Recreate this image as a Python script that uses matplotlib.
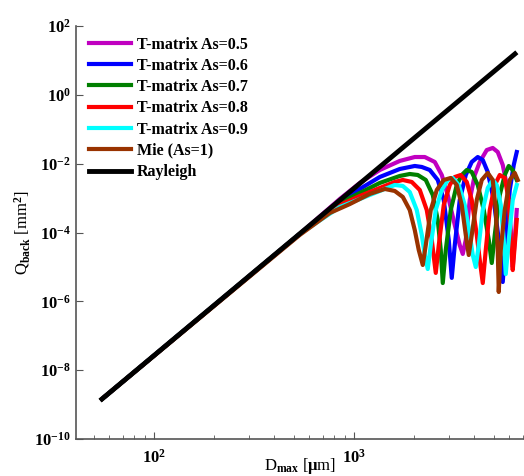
import numpy as np
import matplotlib
matplotlib.use("Agg")
import matplotlib.pyplot as plt

plt.rcParams['font.family'] = 'Liberation Serif'
plt.rcParams['font.weight'] = 'bold'
plt.rcParams['mathtext.fontset'] = 'custom'
plt.rcParams['mathtext.rm'] = 'Liberation Serif:bold'
plt.rcParams['mathtext.it'] = 'Liberation Serif:bold'
plt.rcParams['mathtext.bf'] = 'Liberation Serif:bold'

# D_max [um] and Q_back [mm^2]
d_ray = [55, 6400]
q_ray = [1.45e-9, 15.5]

d_05 = [55, 537, 851, 1072, 1349, 1698, 2018, 2265, 2541, 2754, 2951, 3199, 3388, 3508, 3631, 3802,
        4027, 4266, 4624, 4955, 5248, 5559, 5888, 6095, 6237, 6383, 6531]
q_05 = [1.45e-9, 9.1e-5, 9.4e-4, 2.75e-3, 6.55e-3, 0.0120, 0.0156, 0.0156, 0.0112, 4.69e-3, 1.23e-3,
        1.65e-4, 4.3e-5, 2.38e-5, 6.1e-5, 8.8e-4, 4.69e-3, 0.0112, 0.0249, 0.0286, 0.0218, 9.16e-3,
        1.72e-3, 1.18e-4, 9.95e-6, 6.1e-5, 4.5e-4]

d_06 = [55, 537, 851, 1072, 1349, 1698, 2018, 2188, 2399, 2630, 2818, 2985, 3090, 3199, 3388, 3631,
        3890, 4169, 4416, 4677, 5012, 5309, 5559, 5754, 6026, 6310, 6531]
q_06 = [1.45e-9, 9.1e-5, 8.2e-4, 1.84e-3, 4.10e-3, 7.0e-3, 8.57e-3, 8.02e-3, 6.55e-3, 3.36e-3, 8.8e-4,
        6.1e-5, 4.8e-6, 4.3e-5, 8.8e-4, 4.69e-3, 0.0112, 0.0156, 0.0128, 5.73e-3, 8.8e-4, 6.1e-5,
        3.65e-6, 6.1e-5, 1.72e-3, 9.16e-3, 0.0218]

d_07 = [55, 537, 851, 1072, 1349, 1698, 1905, 2089, 2291, 2483, 2630, 2723, 2786, 2884, 3055, 3273,
        3467, 3673, 3890, 4169, 4467, 4732, 4898, 5070, 5370, 5689, 5957, 6237, 6531]
q_07 = [1.45e-9, 9.1e-5, 7.2e-4, 1.41e-3, 2.75e-3, 4.39e-3, 5.01e-3, 4.69e-3, 3.36e-3, 1.23e-3, 2.31e-4,
        3.1e-5, 3.4e-6, 3.1e-5, 4.5e-4, 2.40e-3, 4.69e-3, 6.55e-3, 5.73e-3, 2.40e-3, 4.5e-4, 6.1e-5,
        1.30e-5, 8.5e-5, 1.23e-3, 4.69e-3, 8.57e-3, 6.55e-3, 3.36e-3]

d_08 = [55, 537, 851, 1072, 1349, 1603, 1758, 1950, 2138, 2317, 2455, 2570, 2661, 2818, 3020, 3199,
        3428, 3673, 3890, 4121, 4266, 4416, 4571, 4786, 5070, 5370, 5689, 5957, 6095, 6237, 6383, 6531]
q_08 = [1.45e-9, 9.1e-5, 6.3e-4, 1.15e-3, 1.97e-3, 2.94e-3, 3.36e-3, 2.94e-3, 1.72e-3, 4.5e-4, 6.1e-5,
        6.7e-6, 4.3e-5, 6.3e-4, 2.40e-3, 4.10e-3, 4.69e-3, 2.94e-3, 8.8e-4, 8.5e-5, 1.59e-5, 3.4e-6,
        3.1e-5, 4.5e-4, 2.40e-3, 4.69e-3, 3.84e-3, 8.8e-4, 6.1e-5, 8.1e-6, 4.3e-5, 2.31e-4]

d_09 = [55, 537, 851, 1072, 1349, 1603, 1758, 1905, 2065, 2188, 2265, 2344, 2427, 2570, 2754, 2951,
        3126, 3350, 3589, 3802, 3936, 4074, 4217, 4416, 4677, 4955, 5188, 5433, 5623, 5754, 5957,
        6237, 6531]
q_09 = [1.45e-9, 9.1e-5, 5.5e-4, 9.4e-4, 1.61e-3, 2.40e-3, 2.25e-3, 1.50e-3, 4.5e-4, 8.5e-5, 2.22e-5,
        8.7e-6, 4.3e-5, 4.5e-4, 1.72e-3, 3.36e-3, 3.84e-3, 2.40e-3, 6.3e-4, 8.5e-5, 2.22e-5, 9.95e-6,
        4.3e-5, 4.5e-4, 1.97e-3, 3.36e-3, 2.40e-3, 6.3e-4, 6.1e-5, 6.2e-6, 6.1e-5, 8.8e-4, 2.40e-3]

d_mie = [55, 537, 759, 955, 1202, 1429, 1603, 1758, 1905, 2018, 2113, 2213, 2291, 2427, 2600, 2818,
         3055, 3273, 3467, 3631, 3758, 3890, 4121, 4365, 4677, 4955, 5129, 5248, 5309, 5433, 5689,
         6026, 6383, 6607]
q_mie = [1.45e-9, 8.5e-5, 3.7e-4, 6.7e-4, 1.32e-3, 1.84e-3, 1.61e-3, 1.08e-3, 4.5e-4, 1.18e-4, 3.1e-5,
         1.14e-5, 4.3e-5, 4.5e-4, 1.72e-3, 3.36e-3, 3.84e-3, 2.40e-3, 6.3e-4, 8.5e-5, 2.22e-5, 8.5e-5,
         8.8e-4, 3.36e-3, 5.36e-3, 3.36e-3, 4.5e-4, 3.1e-5, 1.87e-6, 3.1e-5, 4.5e-4, 3.36e-3, 5.36e-3,
         3.36e-3]

fig = plt.figure(figsize=(5.24, 4.76), dpi=100)
ax = fig.add_axes([0.145, 0.0777, 0.855, 0.8677])

lw = 3.0
ax.plot(d_05, q_05, color='#c000c0', lw=lw, label='T-matrix As=0.5')
ax.plot(d_06, q_06, color='#0000ff', lw=lw, label='T-matrix As=0.6')
ax.plot(d_07, q_07, color='#007f00', lw=lw, label='T-matrix As=0.7')
ax.plot(d_08, q_08, color='#ff0000', lw=lw, label='T-matrix As=0.8')
ax.plot(d_09, q_09, color='#00ffff', lw=lw, label='T-matrix As=0.9')
ax.plot(d_mie, q_mie, color='#993300', lw=lw, label='Mie (As=1)')
ax.plot(d_ray, q_ray, color='black', lw=3.5, label='Rayleigh')

ax.set_xscale('log')
ax.set_yscale('log')
ax.set_xlim(40.8, 7100)
ax.set_ylim(1e-10, 1e2)
ax.set_yticks([1e-10, 1e-8, 1e-6, 1e-4, 1e-2, 1e0, 1e2])
ax.yaxis.set_minor_locator(matplotlib.ticker.NullLocator())

for s in ['top', 'right']:
    ax.spines[s].set_visible(False)
for s in ['left', 'bottom']:
    ax.spines[s].set_color('#555555')
    ax.spines[s].set_linewidth(1.2)
ax.tick_params(which='both', direction='in', colors='#555555', labelcolor='black', labelsize=12)
ax.tick_params(which='major', length=5)
ax.tick_params(which='minor', length=3)
ax.tick_params(axis='x', pad=7)

ax.set_xlabel(r'D$_{\rm max}$ [$\mu$m]', fontsize=12, labelpad=-8)
ax.set_ylabel(r'Q$_{\rm back}$ [mm$^2$]', fontsize=12, labelpad=2)

ax.legend(loc='upper left', bbox_to_anchor=(0.015, 0.99), frameon=False, fontsize=11.5,
          handlelength=2.6, handletextpad=0.4, labelspacing=0.33, borderaxespad=0)

fig.savefig('out.png', dpi=100)
